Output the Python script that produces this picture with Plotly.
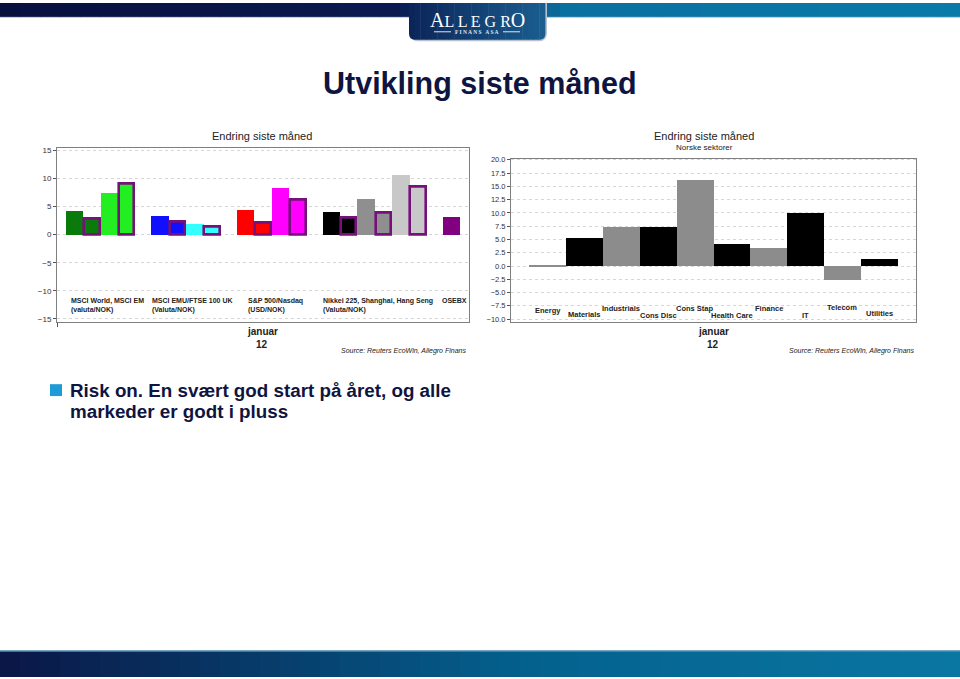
import plotly.graph_objects as go

# ---------------- data ----------------
left_groups = ["MSCI World, MSCI EM<br>(valuta/NOK)",
               "MSCI EMU/FTSE 100 UK<br>(Valuta/NOK)",
               "S&P 500/Nasdaq<br>(USD/NOK)",
               "Nikkei 225, Shanghai, Hang Seng<br>(Valuta/NOK)",
               "OSEBX"]
msci_values = [4.2, 2.9, 7.5, 9.05]
europe_values = [3.3, 2.25, 2.05, 1.4]
us_values = [4.4, 2.2, 8.4, 6.2]
asia_values = [4.05, 3.0, 6.35, 3.9, 10.75, 8.6]
osebx_values = [3.2]
left_values = [msci_values, europe_values, us_values, asia_values, osebx_values]
# which bars carry the purple outline (in NOK)
left_outlined = [[False, True, False, True],
                 [False, True, False, True],
                 [False, True, False, True],
                 [False, True, False, True, False, True],
                 [False]]
left_ticks = [-15, -10, -5, 0, 5, 10, 15]

sectors = ["Energy", "Materials", "Industrials", "Cons Disc", "Cons Stap",
           "Health Care", "Finance", "IT", "Telecom", "Utilities"]
sector_values = [0.25, 5.3, 7.4, 7.5, 16.2, 4.2, 3.4, 10.0, -2.6, 1.35]
right_ticks = [-10.0, -7.5, -5.0, -2.5, 0.0, 2.5, 5.0, 7.5, 10.0, 12.5, 15.0, 17.5, 20.0]

# ---------------- style / layout ----------------
W, H = 960, 679
FONT = "Liberation Sans, Arial, sans-serif"
NAVY = "#0f1440"
left_colors = [["#0a7a0a", "#0a7a0a", "#22ee22", "#22ee22"],
               ["#1010ff", "#1010ff", "#33ffff", "#33ffff"],
               ["#ff0000", "#ff0000", "#ff00ff", "#ff00ff"],
               ["#000000", "#000000", "#8f8f8f", "#8f8f8f", "#c8c8c8", "#c8c8c8"],
               ["#800080"]]
GROUP_START = [0.5, 5.42, 10.34, 15.26, 22.17]   # in bar-width units
LABEL_X = [0.69, 5.34, 10.86, 15.17, 22.0]
OUTLINE = "#76107a"


def px(x):
    return x / W


def py(y):
    return 1 - y / H


fig = go.Figure()

# left chart bars
plain_x, plain_y, plain_c = [], [], []
out_x, out_y, out_c = [], [], []
for g, vals in enumerate(left_values):
    for i, v in enumerate(vals):
        xc = GROUP_START[g] + i + 0.5
        if left_outlined[g][i]:
            out_x.append(xc); out_y.append(v); out_c.append(left_colors[g][i])
        else:
            plain_x.append(xc); plain_y.append(v); plain_c.append(left_colors[g][i])

fig.add_trace(go.Bar(x=plain_x, y=plain_y, width=1.0, marker=dict(color=plain_c, line=dict(width=0)),
                     xaxis="x", yaxis="y", hoverinfo="y"))
fig.add_trace(go.Bar(x=out_x, y=out_y, width=0.9,
                     marker=dict(color=out_c, line=dict(width=2.6, color=OUTLINE)),
                     xaxis="x", yaxis="y", hoverinfo="y"))

# right chart bars
sector_colors = ["#8c8c8c" if i % 2 == 0 else "#000000" for i in range(len(sectors))]
fig.add_trace(go.Bar(x=sectors, y=sector_values, width=1.0,
                     marker=dict(color=sector_colors, line=dict(width=0)),
                     xaxis="x2", yaxis="y2", hoverinfo="x+y"))

axis_common = dict(showline=True, linecolor="#7f7f7f", linewidth=1, mirror=True, zeroline=False)

fig.update_layout(
    width=W, height=H, margin=dict(l=0, r=0, t=0, b=0),
    paper_bgcolor="white", plot_bgcolor="white",
    showlegend=False, barmode="overlay", bargap=0,
    font=dict(family=FONT, color="#222"),
    xaxis=dict(domain=[px(57), px(469)], range=[0, 23.68], showgrid=False, anchor="y",
               tickvals=[0], ticktext=[""], ticks="outside", ticklen=4, tickcolor="#555",
               **axis_common),
    yaxis=dict(domain=[py(321), py(145.7)], range=[-15.5, 15.5], tickvals=left_ticks, anchor="x",
               ticks="outside", ticklen=3, tickcolor="#555",
               showgrid=True, gridcolor="#d6d6d6", griddash="dot", gridwidth=1,
               tickfont=dict(size=8, color="#333", family=FONT), **axis_common),
    xaxis2=dict(domain=[px(511), px(916)], type="category", categoryorder="array", anchor="y2",
                categoryarray=sectors, range=[-1, 10], showticklabels=False, showgrid=False,
                **axis_common),
    yaxis2=dict(domain=[py(321), py(156.7)], range=[-10.47, 20.24], tickvals=right_ticks, anchor="x2",
                tickformat=".1f", ticks="outside", ticklen=3, tickcolor="#555",
                showgrid=True, gridcolor="#d6d6d6", griddash="dot", gridwidth=1,
                tickfont=dict(size=7.5, color="#333", family=FONT), **axis_common),
)

ann = []
# left group labels
for g, lab in enumerate(left_groups):
    ann.append(dict(x=LABEL_X[g], xref="x", y=py(300), yref="paper", text="<b>" + lab + "</b>",
                    showarrow=False, xanchor="left", yanchor="top", align="left",
                    font=dict(size=7, color="#222", family=FONT), yshift=6))
# right sector labels (staggered)
SECTOR_LABEL_Y = [309.3, 314, 307.7, 315.3, 307.7, 315.3, 308, 315, 307, 313.3]
for i, s in enumerate(sectors):
    ann.append(dict(x=s, xref="x2", y=py(SECTOR_LABEL_Y[i]), yref="paper", text="<b>" + s + "</b>",
                    showarrow=False, xanchor="center", yanchor="middle",
                    font=dict(size=7.5, color="#222", family=FONT)))


def text(x, y, t, size, color="#222", anchor="center", bold=False, italic=False, family=FONT):
    if bold:
        t = "<b>" + t + "</b>"
    if italic:
        t = "<i>" + t + "</i>"
    ann.append(dict(x=px(x), y=py(y), xref="paper", yref="paper", text=t, showarrow=False,
                    xanchor=anchor, yanchor="middle", font=dict(size=size, color=color, family=family)))


text(480, 81, "Utvikling siste måned", 30.5, NAVY, bold=True)
text(262, 134, "Endring siste måned", 11)
text(704, 134, "Endring siste måned", 11)
text(704, 146, "Norske sektorer", 8)
text(262, 331, "januar", 10, bold=True)
text(262, 344, "12", 10, bold=True)
text(713, 331, "januar", 10, bold=True)
text(713, 344, "12", 10, bold=True)
text(468, 351, "Source: Reuters EcoWin, Allegro Finans", 7, anchor="right", italic=True)
text(916, 351, "Source: Reuters EcoWin, Allegro Finans", 7, anchor="right", italic=True)
text(68, 390, "Risk on. En svært god start på året, og alle", 18.8, NAVY, anchor="left", bold=True)
text(68, 412, "markeder er godt i pluss", 18.8, NAVY, anchor="left", bold=True)

# logo text
text(477, 17, "A<span style='font-size:16px'>L L E G R</span>O", 20, "white",
     family="Liberation Serif, Times New Roman, serif")
text(477, 29, "F I N A N S   A S A", 5.5, "#dde6f0", family="Liberation Serif, serif", bold=True)

fig.update_layout(annotations=ann)

shapes = []


def rect(x0, y0, x1, y1, color, layer="above"):
    shapes.append(dict(type="rect", xref="paper", yref="paper", x0=px(x0), x1=px(x1),
                       y0=py(y1), y1=py(y0), fillcolor=color, line=dict(width=0), layer=layer))


def lerp(c1, c2, t):
    a = [int(c1[i:i + 2], 16) for i in (1, 3, 5)]
    b = [int(c2[i:i + 2], 16) for i in (1, 3, 5)]
    return "#" + "".join("%02x" % int(round(a[k] + (b[k] - a[k]) * t)) for k in range(3))


# header band
N = 48
for k in range(N):
    x0 = W * k / N
    x1 = W * (k + 1) / N + 0.5
    xm = (x0 + x1) / 2
    if xm < 400:
        c = lerp("#08103e", "#0a1a50", xm / 400)
    elif xm < 560:
        c = lerp("#0a1a50", "#0a6c9c", (xm - 400) / 160)
    else:
        c = lerp("#0a70a0", "#0a7aa8", (xm - 560) / 400)
    rect(x0, 0, x1, 14, c)
rect(0, 14, W, 15, "#c8d0dc")
# logo tab with shadow
shapes.append(dict(type="path", xref="paper", yref="paper",
                   path="M %f,%f L %f,%f L %f,%f Q %f,%f %f,%f L %f,%f Q %f,%f %f,%f Z" % (
                       px(410), py(0), px(547), py(0), px(547), py(30), px(547), py(38.5), px(539), py(38.5),
                       px(418), py(38.5), px(410), py(38.5), px(410), py(30)),
                   fillcolor="#b8c2cf", line=dict(width=0), layer="above"))
M = 24
for k in range(M):
    x0 = 409 + 136 * k / M
    x1 = 409 + 136 * (k + 1) / M + 0.4
    c = lerp("#0c2458", "#1a5e90", (k + 0.5) / M)
    if k == 0:
        shapes.append(dict(type="path", xref="paper", yref="paper",
                           path="M %f,%f L %f,%f L %f,%f L %f,%f Q %f,%f %f,%f Z" % (
                               px(x0), py(0), px(x1), py(0), px(x1), py(37), px(x0 + 6), py(37),
                               px(x0), py(37), px(x0), py(31)),
                           fillcolor=c, line=dict(width=0), layer="above"))
    elif k == M - 1:
        shapes.append(dict(type="path", xref="paper", yref="paper",
                           path="M %f,%f L %f,%f L %f,%f Q %f,%f %f,%f L %f,%f Z" % (
                               px(x0), py(0), px(x1), py(0), px(x1), py(31),
                               px(x1), py(37), px(x1 - 6), py(37), px(x0), py(37)),
                           fillcolor=c, line=dict(width=0), layer="above"))
    else:
        rect(x0, 0, x1, 37, c)
# lines beside FINANS ASA
for (a, b) in [(434, 451), (503, 520)]:
    shapes.append(dict(type="line", xref="paper", yref="paper", x0=px(a), x1=px(b), y0=py(29), y1=py(29),
                       line=dict(color="#dde6f0", width=1), layer="above"))

# footer band
for k in range(N):
    x0 = W * k / N
    x1 = W * (k + 1) / N + 0.5
    t = ((x0 + x1) / 2) / W
    if t < 0.55:
        c = lerp("#0a1646", "#04618e", t / 0.55)
    else:
        c = lerp("#04618e", "#0a76a2", (t - 0.55) / 0.45)
    rect(x0, 653, x1, H, c)
rect(0, 652, W, 653.5, "#4a86a8")

# bullet square
rect(50, 384, 62, 396, "#1e9bd7")

fig.update_layout(shapes=shapes)

fig.write_html("out.html", config={"displayModeBar": False},
               post_script="document.body.style.margin='0';document.body.style.overflow='hidden';")
